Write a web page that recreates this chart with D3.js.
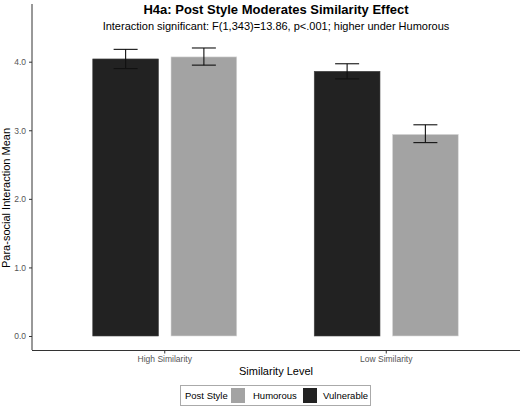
<!DOCTYPE html>
<html><head><meta charset="utf-8">
<script src="https://cdn.jsdelivr.net/npm/d3@7"></script>
<style>body{margin:0;background:#fff}text{font-family:"Liberation Sans",Arial,sans-serif}</style>
</head><body id="the-body">
<script>
const levels = ["High Similarity", "Low Similarity"];
const styles = ["Vulnerable", "Humorous"];
const means = [[4.04, 4.07], [3.86, 2.94]];
const lower = [[3.90, 3.95], [3.75, 2.82]];
const upper = [[4.18, 4.20], [3.97, 3.08]];
const yTicks = [0, 1, 2, 3, 4];
const colors = {Vulnerable: "#222222", Humorous: "#a3a3a3"};

const svg = d3.select("#the-body").append("svg").attr("width", 520).attr("height", 408);

const x = d3.scaleBand().domain(levels).range([54, 497]);
const sub = d3.scaleBand().domain(styles).range([-72, 72]).paddingInner(0.16);
const y = d3.scaleLinear().domain([0, 4]).range([336, 61.7]);

// title
svg.append("text").attr("x", 276).attr("y", 14).attr("text-anchor", "middle")
  .attr("font-size", 13).attr("font-weight", "bold").text("H4a: Post Style Moderates Similarity Effect");
svg.append("text").attr("x", 276).attr("y", 30).attr("text-anchor", "middle")
  .attr("font-size", 11).text("Interaction significant: F(1,343)=13.86, p<.001; higher under Humorous");

// bars
levels.forEach((lv, i) => {
  styles.forEach((st, j) => {
    const cx = x(lv) + x.bandwidth() / 2 + sub(st);
    svg.append("rect").attr("x", cx).attr("width", sub.bandwidth())
      .attr("y", y(means[i][j])).attr("height", y(0) - y(means[i][j]))
      .attr("fill", colors[st]).attr("stroke", st === "Humorous" ? "#d9d9d9" : "#444").attr("stroke-width", 0.6);
    const mx = cx + sub.bandwidth() / 2;
    const g = svg.append("g").attr("stroke", "#111").attr("stroke-width", 1.1);
    g.append("line").attr("x1", mx).attr("x2", mx).attr("y1", y(lower[i][j])).attr("y2", y(upper[i][j]));
    g.append("line").attr("x1", mx - 12).attr("x2", mx + 12).attr("y1", y(lower[i][j])).attr("y2", y(lower[i][j]));
    g.append("line").attr("x1", mx - 12).attr("x2", mx + 12).attr("y1", y(upper[i][j])).attr("y2", y(upper[i][j]));
  });
});

// axes
const ya = svg.append("g").attr("transform", "translate(32,0)")
  .call(d3.axisLeft(y).tickValues(yTicks).tickSize(3).tickPadding(3));
ya.select(".domain").attr("d", "M0,4V350");
const xa = svg.append("g").attr("transform", "translate(0,350.5)")
  .call(d3.axisBottom(x).tickSize(3).tickPadding(2));
xa.select(".domain").attr("d", "M32,0H520");
svg.selectAll(".tick text").attr("fill", "#555").attr("font-size", 8.5);
svg.selectAll(".domain, .tick line").attr("stroke", "#333");

svg.append("text").attr("x", 276).attr("y", 375).attr("text-anchor", "middle").attr("font-size", 11).text("Similarity Level");
svg.append("text").attr("transform", "translate(10,198) rotate(-90)").attr("text-anchor", "middle")
  .attr("font-size", 11).text("Para-social Interaction Mean");

// legend
const lg = svg.append("g");
lg.append("rect").attr("x", 180.5).attr("y", 385.5).attr("width", 190).attr("height", 20).attr("fill", "#fff").attr("stroke", "#aaa");
lg.append("text").attr("x", 185).attr("y", 399).attr("font-size", 9.5).text("Post Style");
[["Humorous", 231, 253], ["Vulnerable", 303, 323]].forEach(([st, rx, tx]) => {
  lg.append("rect").attr("x", rx).attr("y", 388).attr("width", 14).attr("height", 15).attr("fill", colors[st]);
  lg.append("text").attr("x", tx).attr("y", 399).attr("font-size", 9.5).text(st);
});
</script>
</body></html>
